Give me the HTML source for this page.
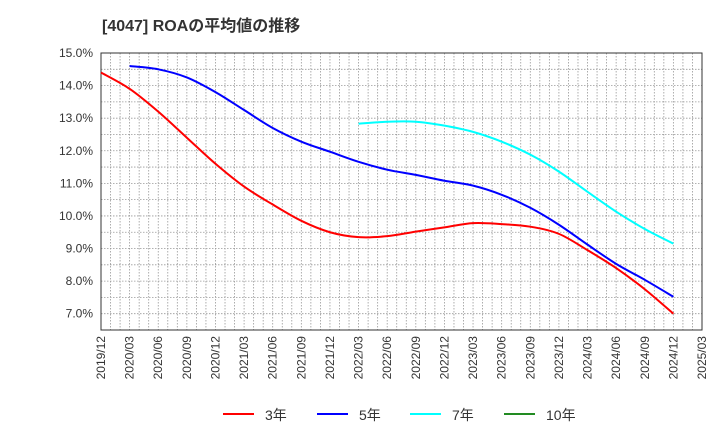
<!DOCTYPE html>
<html><head><meta charset="utf-8"><style>
body{margin:0;background:#fff;font-family:"Liberation Sans","Noto Sans CJK JP",sans-serif;}
</style></head><body>
<svg id="c" width="720" height="440" xmlns="http://www.w3.org/2000/svg">
<text x="102" y="31" font-size="16" font-weight="bold" fill="#333">[4047]  ROAの平均値の推移</text>
<g id="grid"></g><g id="axes"></g><g id="series"></g>
<g id="legend"></g>
</svg>
<script>
const xLabels=["2019/12","2020/03","2020/06","2020/09","2020/12","2021/03","2021/06","2021/09","2021/12","2022/03","2022/06","2022/09","2022/12","2023/03","2023/06","2023/09","2023/12","2024/03","2024/06","2024/09","2024/12","2025/03"];
const yTicks=[7,8,9,10,11,12,13,14,15];
const s3=[14.4,13.9,13.2,12.4,11.6,10.9,10.35,9.85,9.5,9.35,9.38,9.52,9.65,9.78,9.75,9.67,9.45,8.95,8.4,7.75,7.0];
const s5=[null,14.6,14.5,14.25,13.8,13.25,12.7,12.28,11.97,11.66,11.42,11.26,11.08,10.93,10.65,10.25,9.73,9.12,8.53,8.04,7.52];
const s7=[null,null,null,null,null,null,null,null,null,12.83,12.89,12.89,12.77,12.58,12.28,11.88,11.36,10.74,10.13,9.6,9.15];
const s10=[];
const L=101,R=702,T=53,B=330,yMin=6.5,yMax=15.0;
const X=i=>L+(R-L)*i/(xLabels.length-1);
const Y=v=>T+(B-T)*(yMax-v)/(yMax-yMin);
const NS="http://www.w3.org/2000/svg";
function mk(t,a,p){const e=document.createElementNS(NS,t);for(const k in a)e.setAttribute(k,a[k]);p.appendChild(e);return e;}
const grid=document.getElementById('grid'),axes=document.getElementById('axes'),ser=document.getElementById('series'),leg=document.getElementById('legend');
for(let m=1;m<(xLabels.length-1)*3;m++){const x=L+(R-L)*m/((xLabels.length-1)*3);
const g=mk('line',{x1:x,x2:x,y1:T,y2:B,stroke:'#999','stroke-width':0.8,'stroke-dasharray':'1.5,1.5'},grid);
}
for(let v=7;v<=14.5;v+=0.5){const h=mk('line',{x1:L,x2:R,y1:Y(v),y2:Y(v),stroke:'#999','stroke-width':0.8,'stroke-dasharray':'1.5,1.5'},grid);
}
const fr=mk('rect',{x:L,y:T,width:R-L,height:B-T,fill:'none',stroke:'#333','stroke-width':1},axes);

yTicks.forEach(v=>{const t=mk('text',{x:L-8,y:Y(v)+4,'font-size':12,fill:'#333','text-anchor':'end'},axes);t.textContent=v.toFixed(1)+'%';
});
xLabels.forEach((l,i)=>{const x=X(i)+4;const t=mk('text',{x:x,y:336,'font-size':12,fill:'#333','text-anchor':'end',transform:`rotate(-90 ${x} 336)`},axes);t.textContent=l;
});
function draw(arr,col,name){let pts=[];arr.forEach((v,i)=>{if(v!=null)pts.push([X(i),Y(v)]);});if(pts.length<2)return;
let d=`M${pts[0][0]},${pts[0][1]}`;for(let i=0;i<pts.length-1;i++){const p0=pts[i-1]||pts[i],p1=pts[i],p2=pts[i+1],p3=pts[i+2]||p2;
d+=` C${p1[0]+(p2[0]-p0[0])/6},${p1[1]+(p2[1]-p0[1])/6} ${p2[0]-(p3[0]-p1[0])/6},${p2[1]-(p3[1]-p1[1])/6} ${p2[0]},${p2[1]}`;}
const p=mk('path',{d:d,fill:'none',stroke:col,'stroke-width':2},ser);}
draw(s3,'#ff0000','line-3yr');draw(s5,'#0000ff','line-5yr');draw(s7,'#00ffff','line-7yr');draw(s10,'#228b22','line-10yr');
[['3年','#ff0000',223],['5年','#0000ff',317],['7年','#00ffff',410],['10年','#228b22',504]].forEach(([n,c,x])=>{
const l=mk('line',{x1:x,x2:x+31,y1:414,y2:414,stroke:c,'stroke-width':2},leg);
const t=mk('text',{x:x+42,y:420,'font-size':14,fill:'#333'},leg);t.textContent=n;});
</script>
</body></html>
